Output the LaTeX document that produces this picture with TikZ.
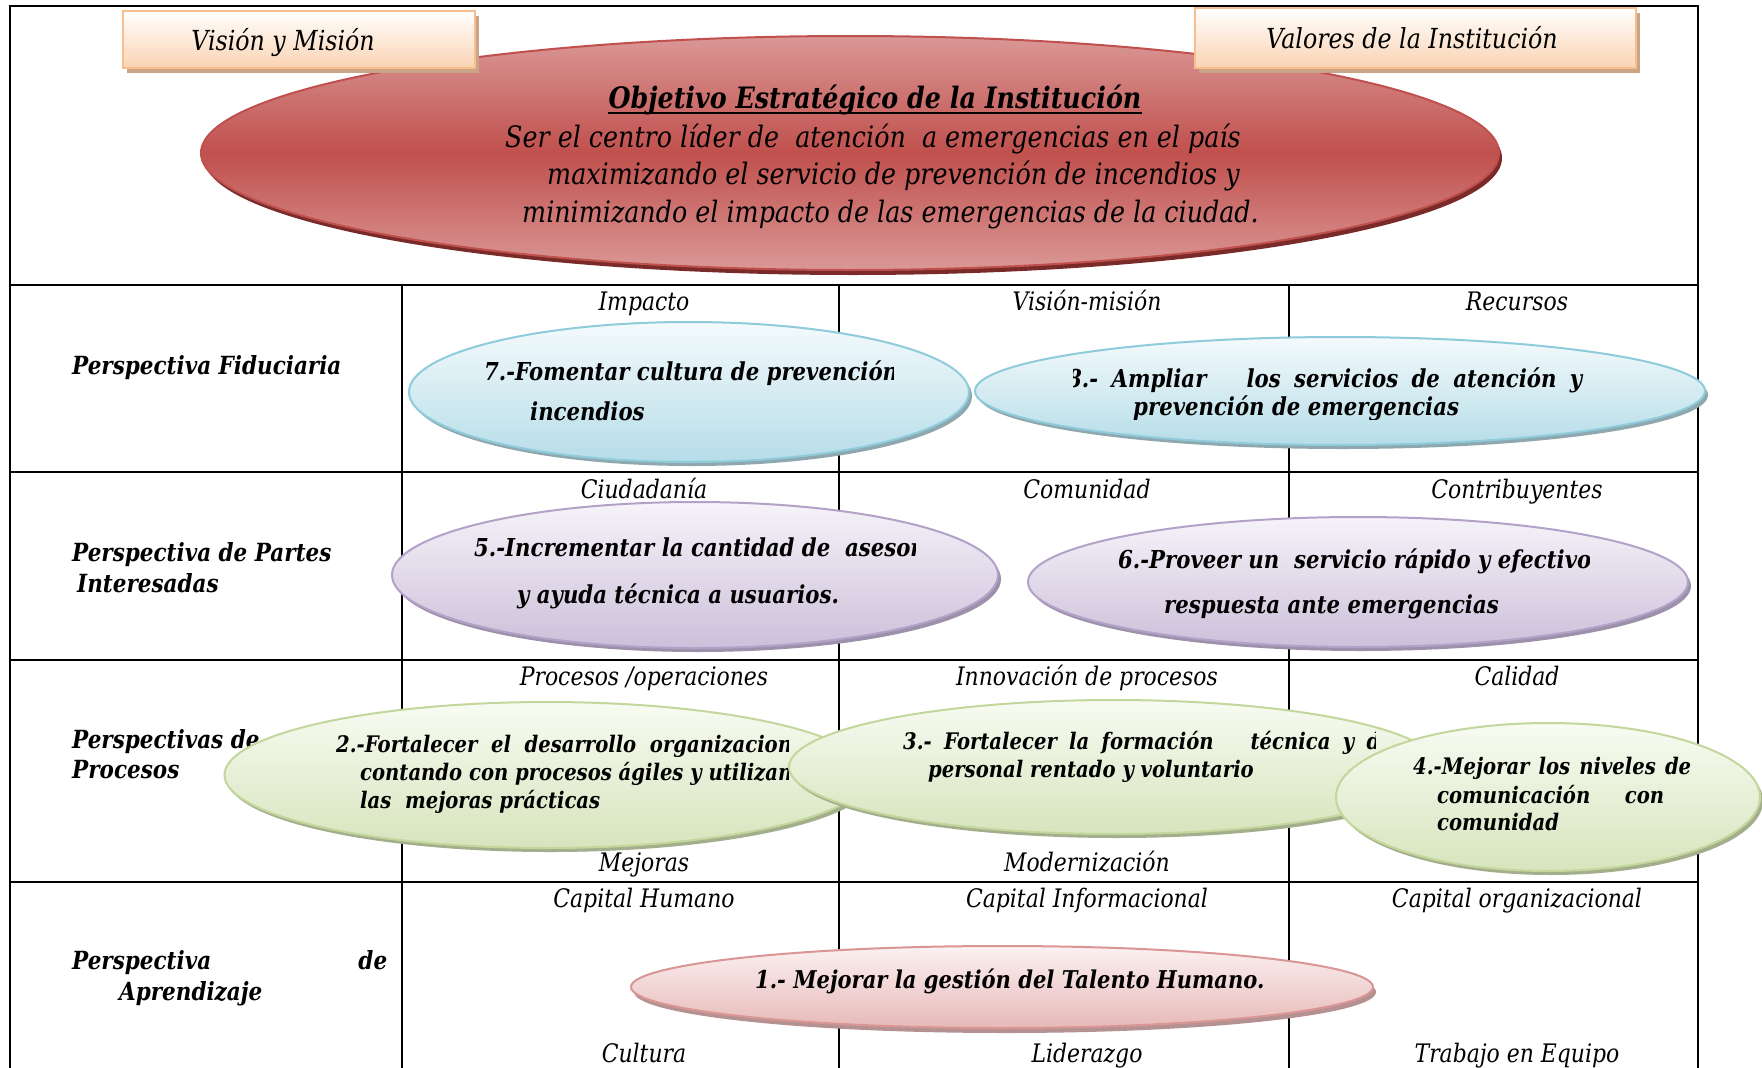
\documentclass[tikz,border=0pt]{standalone}
\usepackage{fontspec}
\setmainfont[FakeStretch=0.86]{DejaVu Serif}
\usetikzlibrary{shapes.geometric,shadows}
\definecolor{redL}{HTML}{DA9896}
\definecolor{redD}{HTML}{C0504D}
\definecolor{redS}{HTML}{7A2B29}
\definecolor{peachB}{HTML}{FAD3B2}
\definecolor{peachE}{HTML}{F9BE8E}
\definecolor{peachS}{HTML}{C9A487}
\definecolor{blueT}{HTML}{F4FAFC}
\definecolor{blueB}{HTML}{B6DDE8}
\definecolor{blueE}{HTML}{8ECBDB}
\definecolor{blueS}{HTML}{8FA8AF}
\definecolor{purT}{HTML}{F6F3F9}
\definecolor{purB}{HTML}{CCC0DA}
\definecolor{purE}{HTML}{B3A2C7}
\definecolor{purS}{HTML}{9C90AA}
\definecolor{grnT}{HTML}{F8FBF2}
\definecolor{grnB}{HTML}{D7E4BD}
\definecolor{grnE}{HTML}{C3D69B}
\definecolor{grnS}{HTML}{A3AE8C}
\definecolor{pnkT}{HTML}{FCF1F1}
\definecolor{pnkB}{HTML}{E6B9B8}
\definecolor{pnkE}{HTML}{D99694}
\definecolor{pnkS}{HTML}{B59291}
\newcommand{\bigfnt}{\fontsize{29.5}{34}\selectfont\itshape}
\newcommand{\boxfnt}{\fontsize{27.6}{32}\selectfont\itshape}
\newcommand{\rowfnt}{\fontsize{25}{30}\selectfont\bfseries\itshape}
\newcommand{\catfnt}{\fontsize{25.5}{30}\selectfont\itshape}
\newcommand{\ovfnt}{\fontsize{24.7}{29}\selectfont\bfseries\itshape}
\newcommand{\onefnt}{\fontsize{24.5}{29}\selectfont\bfseries\itshape}
\newcommand{\grnfnt}{\fontsize{22.8}{27}\selectfont\bfseries\itshape}
\begin{document}
\begin{tikzpicture}[x=1pt,y=-1pt,
  frameline/.style={line width=2.6pt,black},
  colline/.style={line width=1.4pt,black},
  txt/.style={inner sep=0pt,anchor=base west},
  ctxt/.style={inner sep=0pt,anchor=base},
  oval/.style={ellipse,inner sep=0pt,line width=2pt},
  topbox/.style={rectangle,inner sep=0pt,line width=1.6pt,draw=peachE,top color=white,bottom color=peachB,
    drop shadow={shadow xshift=4pt,shadow yshift=-5pt,fill=peachS,opacity=1}},
  redov/.style={oval,draw=redD,top color=redL,bottom color=redL,middle color=redD,
    drop shadow={shadow xshift=3pt,shadow yshift=-5pt,fill=redS,opacity=1}},
  blueov/.style={oval,draw=blueE,top color=blueT,bottom color=blueB,
    drop shadow={shadow xshift=3pt,shadow yshift=-4pt,fill=blueS,opacity=1}},
  purov/.style={oval,draw=purE,top color=purT,bottom color=purB,
    drop shadow={shadow xshift=3pt,shadow yshift=-4pt,fill=purS,opacity=1}},
  grnov/.style={oval,draw=grnE,top color=grnT,bottom color=grnB,
    drop shadow={shadow xshift=3pt,shadow yshift=-4pt,fill=grnS,opacity=1}},
  pnkov/.style={oval,draw=pnkE,top color=pnkT,bottom color=pnkB,
    drop shadow={shadow xshift=3pt,shadow yshift=-5pt,fill=pnkS,opacity=1}}
]
\useasboundingbox (0,0) rectangle (1762,1068);
\clip (0,0) rectangle (1762,1068);
\fill[white] (0,0) rectangle (1762,1068);
% grid
\draw[frameline] (10,1100) -- (10,6) -- (1698,6) -- (1698,1100);
\foreach \yy in {285,472,660,882} \draw[frameline] (10,\yy) -- (1698,\yy);
\foreach \xx in {402,839,1289} \draw[colline] (\xx,285) -- (\xx,1100);
% row labels
\node[txt] (r1) at (72,374) {\rowfnt Perspectiva Fiduciaria};
\node[txt] (r2a) at (72,561) {\rowfnt Perspectiva de Partes};
\node[txt] (r2b) at (77,592) {\rowfnt Interesadas};
\node[txt] (r3a) at (72,748) {\rowfnt Perspectivas de};
\node[txt] (r3b) at (72,778) {\rowfnt Procesos};
\node[txt] (r4a) at (72,969) {\rowfnt\makebox[315pt][s]{Perspectiva de}};
\node[txt] (r4b) at (119,1000) {\rowfnt Aprendizaje};
% category labels
\node[ctxt] (c11) at (644,310) {\catfnt Impacto};
\node[ctxt] (c12) at (1087,310) {\catfnt Visión-misión};
\node[ctxt] (c13) at (1517,310) {\catfnt Recursos};
\node[ctxt] (c21) at (644,498) {\catfnt Ciudadanía};
\node[ctxt] (c22) at (1087,498) {\catfnt Comunidad};
\node[ctxt] (c23) at (1517,498) {\catfnt Contribuyentes};
\node[ctxt] (c31) at (644,685) {\catfnt Procesos /operaciones};
\node[ctxt] (c32) at (1087,685) {\catfnt Innovación de procesos};
\node[ctxt] (c33) at (1517,685) {\catfnt Calidad};
\node[ctxt] (c34) at (644,871) {\catfnt Mejoras};
\node[ctxt] (c35) at (1087,871) {\catfnt Modernización};
\node[ctxt] (c41) at (644,907) {\catfnt Capital Humano};
\node[ctxt] (c42) at (1087,907) {\catfnt Capital Informacional};
\node[ctxt] (c43) at (1517,907) {\catfnt Capital organizacional};
\node[ctxt] (c44) at (644,1062) {\catfnt Cultura};
\node[ctxt] (c45) at (1087,1062) {\catfnt Liderazgo};
\node[ctxt] (c46) at (1517,1062) {\catfnt Trabajo en Equipo};
% big objective ellipse
\node[redov,minimum width=1298pt,minimum height=234pt] (obj) at (850,153) {};
\node[ctxt] (objt) at (875,108) {\bigfnt\bfseries Objetivo Estratégico de la Institución};
\draw[line width=2pt] ([yshift=-5pt]objt.base west) -- ([yshift=-5pt]objt.base east);
\node[txt] (obj1) at (505,147) {\bigfnt Ser el centro líder de\ \ atención\ \ a emergencias en el país};
\node[txt] (obj2) at (547,184) {\bigfnt maximizando el servicio de prevención de incendios y};
\node[txt] (obj3) at (522,222) {\bigfnt minimizando el impacto de las emergencias de la ciudad.};
% top boxes
\node[topbox,minimum width=352pt,minimum height=57pt] (vm) at (299,39.5) {};
\node[ctxt] (vmt) at (283,50) {\boxfnt Visión y Misión};
\node[topbox,minimum width=441pt,minimum height=60pt] (vi) at (1415.5,38) {};
\node[ctxt] (vit) at (1412,48) {\boxfnt Valores de la Institución};
% row 1 ovals
\node[blueov,minimum width=560pt,minimum height=140pt] (e7) at (689,392) {};
\begin{scope}
\clip (470,340) rectangle (893,432);
\node[txt] (e7a) at (484,380) {\ovfnt 7.-Fomentar cultura de prevención de};
\node[txt] (e7b) at (530,420) {\ovfnt incendios};
\end{scope}
\node[blueov,minimum width=730pt,minimum height=108pt] (e8) at (1340,391) {};
\begin{scope}
\clip (1073,350) rectangle (1600,419);
\node[txt] (e8a) at (1067,387) {\ovfnt\makebox[515pt][s]{8.- Ampliar\ \ \ los servicios de atención y}};
\node[txt] (e8b) at (1133,415) {\ovfnt prevención de emergencias};
\end{scope}
% row 2 ovals
\node[purov,minimum width=606pt,minimum height=146pt] (e5) at (695,575) {};
\begin{scope}
\clip (460,520) rectangle (915,620);
\node[txt] (e5a) at (474,556) {\ovfnt 5.-Incrementar la cantidad de\ \ asesoría};
\node[txt] (e5b) at (517,603) {\ovfnt y ayuda técnica a usuarios.};
\end{scope}
\node[purov,minimum width=660pt,minimum height=130pt] (e6) at (1358,582) {};
\begin{scope}
\clip (1100,530) rectangle (1589,630);
\node[txt] (e6a) at (1118,568) {\ovfnt 6.-Proveer un\ \ servicio rápido y efectivo de};
\node[txt] (e6b) at (1164,613) {\ovfnt respuesta ante emergencias};
\end{scope}
% row 3 ovals
\node[grnov,minimum width=645pt,minimum height=146pt] (e2) at (547,775) {};
\begin{scope}
\clip (320,720) rectangle (788,830);
\node[txt] (e2a) at (336,752) {\grnfnt\makebox[476pt][s]{2.-Fortalecer el desarrollo organizacional}};
\node[txt] (e2b) at (360,780) {\grnfnt contando con procesos ágiles y utilizando};
\node[txt] (e2c) at (360,808) {\grnfnt las\ \ mejoras prácticas};
\end{scope}
\node[grnov,minimum width=650pt,minimum height=134pt] (e3) at (1114,767) {};
\begin{scope}
\clip (890,720) rectangle (1375,800);
\node[txt] (e3a) at (903,749) {\grnfnt\makebox[497pt][s]{3.- Fortalecer la formación\ \ \ técnica y del}};
\node[txt] (e3b) at (928,777) {\grnfnt personal rentado y voluntario};
\end{scope}
\node[grnov,minimum width=424pt,minimum height=148pt] (e4) at (1548,797) {};
\node[txt] (e4a) at (1413,774) {\grnfnt\makebox[278pt][s]{4.-Mejorar los niveles de}};
\node[txt] (e4b) at (1437,803) {\grnfnt\makebox[227pt][s]{comunicación con}};
\node[txt] (e4c) at (1437,830) {\grnfnt comunidad};
% row 4 oval
\node[pnkov,minimum width=742pt,minimum height=82pt] (e1) at (1002,987) {};
\node[txt] (e1a) at (755,988) {\onefnt 1.- Mejorar la gestión del Talento Humano.};
\end{tikzpicture}
\end{document}
